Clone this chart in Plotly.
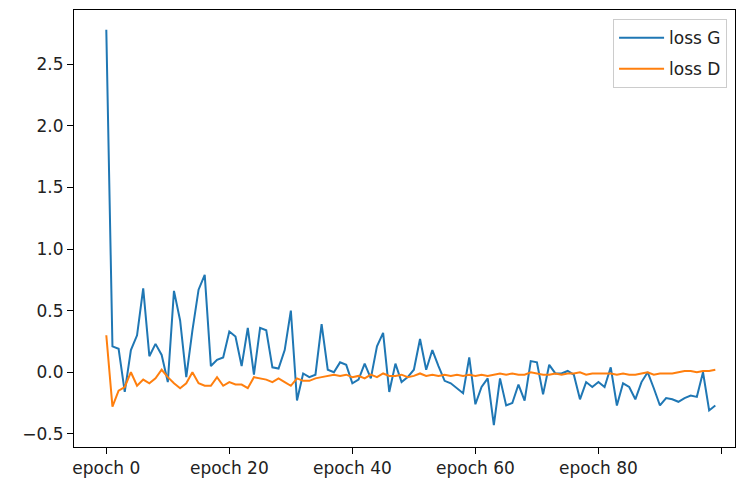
import plotly.graph_objects as go

epochs = list(range(100))

loss_G = [
    2.78, 0.21, 0.19, -0.16, 0.18, 0.30, 0.68, 0.13, 0.23, 0.14,
    -0.08, 0.66, 0.42, -0.04, 0.34, 0.67, 0.79, 0.05, 0.10, 0.12,
    0.33, 0.29, 0.05, 0.36, -0.02, 0.36, 0.34, 0.04, 0.03, 0.18,
    0.50, -0.23, -0.01, -0.04, -0.02, 0.39, 0.02, 0.00, 0.08, 0.06,
    -0.09, -0.06, 0.07, -0.05, 0.21, 0.32, -0.16, 0.07, -0.08, -0.04,
    0.02, 0.27, 0.02, 0.18, 0.05, -0.07, -0.09, -0.13, -0.17, 0.12,
    -0.26, -0.12, -0.05, -0.43, -0.05, -0.27, -0.25, -0.10, -0.23, 0.09,
    0.08, -0.18, 0.06, -0.01, -0.01, 0.01, -0.02, -0.22, -0.08, -0.12,
    -0.08, -0.12, 0.04, -0.27, -0.09, -0.12, -0.22, -0.08, 0.00, -0.13,
    -0.27, -0.21, -0.22, -0.24, -0.21, -0.19, -0.20, 0.00, -0.31, -0.27,
]

loss_D = [
    0.30, -0.28, -0.15, -0.12, 0.00, -0.11, -0.06, -0.09, -0.05, 0.02,
    -0.04, -0.09, -0.13, -0.09, 0.00, -0.09, -0.11, -0.11, -0.04, -0.11,
    -0.08, -0.10, -0.10, -0.13, -0.04, -0.05, -0.06, -0.08, -0.05, -0.08,
    -0.11, -0.05, -0.07, -0.07, -0.05, -0.04, -0.03, -0.02, -0.03, -0.02,
    -0.04, -0.03, -0.05, -0.02, -0.04, -0.01, -0.03, -0.03, -0.02, -0.04,
    -0.03, -0.01, -0.03, -0.02, -0.03, -0.02, -0.03, -0.02, -0.03, -0.02,
    -0.03, -0.02, -0.03, -0.02, -0.01, -0.02, -0.01, -0.02, -0.02, 0.00,
    -0.01, -0.02, -0.02, -0.01, -0.02, -0.01, -0.01, 0.00, -0.02, -0.01,
    -0.01, -0.01, -0.01, -0.02, -0.01, -0.02, -0.02, -0.01, 0.00, -0.02,
    -0.01, -0.01, -0.01, 0.00, 0.01, 0.01, 0.00, 0.01, 0.01, 0.02,
]

x_tick_vals = [0, 20, 40, 60, 80, 100]
x_tick_text = ["epoch 0", "epoch 20", "epoch 40", "epoch 60", "epoch 80", ""]
y_tick_vals = [-0.5, 0.0, 0.5, 1.0, 1.5, 2.0, 2.5]

FONT = "DejaVu Sans"
FS = 17

fig = go.Figure()
fig.add_trace(go.Scatter(x=epochs, y=loss_G, mode="lines", name="loss G", legendgroup="g",
                         line=dict(color="#1f77b4", width=2)))
fig.add_trace(go.Scatter(x=epochs, y=loss_D, mode="lines", name="loss D", legendgroup="d",
                         line=dict(color="#ff7f0e", width=2)))

axis_common = dict(showgrid=False, zeroline=False, showline=True, linecolor="#000000",
                   linewidth=1, mirror=True, ticks="outside", ticklen=6, tickwidth=1,
                   tickcolor="#000000", tickfont=dict(family=FONT, size=FS, color="#222222"))

fig.update_layout(
    width=736, height=481,
    margin=dict(l=74, r=1, t=10, b=34),
    paper_bgcolor="#ffffff", plot_bgcolor="#ffffff",
    font=dict(family=FONT, size=FS, color="#222222"),
    xaxis=dict(range=[-5.25, 102.2], tickvals=x_tick_vals, ticktext=x_tick_text, **axis_common),
    yaxis=dict(range=[-0.607, 2.94], tickvals=y_tick_vals, tickformat=".1f", **axis_common),
    legend=dict(x=0.988, y=0.979, xanchor="right", yanchor="top",
                bgcolor="rgba(255,255,255,0.85)", bordercolor="#cccccc", borderwidth=1,
                font=dict(family=FONT, size=FS, color="#222222"),
                tracegroupgap=6, itemwidth=45),
    showlegend=True,
)

fig.write_html("out.html")
